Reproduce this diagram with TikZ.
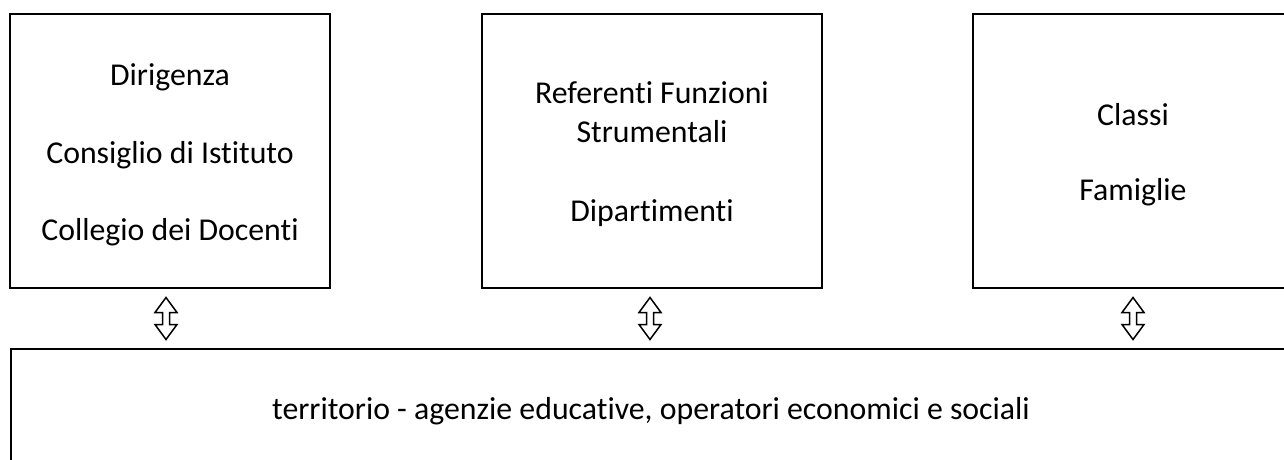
\documentclass[tikz,border=0pt]{standalone}
\usepackage{fontspec}
\setmainfont{Carlito}[Ligatures={NoCommon}]
\usetikzlibrary{calc}
\begin{document}
\begin{tikzpicture}[x=1pt,y=-1pt,
  box/.style={draw, line width=2pt, inner sep=0pt},
  lbl/.style={font=\fontsize{31.8}{38}\selectfont, anchor=base, inner sep=0pt},
  arr/.style={draw, line width=1.5pt, line join=miter, fill=white}]
\clip (0,0) rectangle (1284,459);
% boxes
\node[box, minimum width=320pt, minimum height=274pt] (lbox) at (170,151) {};
\node[box, minimum width=340pt, minimum height=274pt] (mbox) at (652,151) {};
\node[box, minimum width=320pt, minimum height=274pt] (rbox) at (1133,151) {};
\node[box, anchor=north west, minimum width=1300pt, minimum height=140pt] (bot) at (10,348) {};
% texts
\node[lbl] (t1) at (170,85) {Dirigenza};
\node[lbl] (t2) at (170,163) {Consiglio di Istituto};
\node[lbl] (t3) at (170,240) {Collegio dei Docenti};
\node[lbl] (m1) at (652,103) {Referenti Funzioni};
\node[lbl] (m2) at (652,142) {Strumentali};
\node[lbl] (m3) at (652,221) {Dipartimenti};
\node[lbl] (r1) at (1133,125) {Classi};
\node[lbl] (r2) at (1133,200) {Famiglie};
\node[lbl] (b1) at (651,419) {territorio - agenzie educative, operatori economici e sociali};
% double arrows
\coordinate (a1) at ($(lbox.south)!0.5!(lbox.south |- bot.north)$);
\coordinate (a2) at ($(mbox.south)!0.5!(mbox.south |- bot.north)$);
\coordinate (a3) at ($(rbox.south)!0.5!(rbox.south |- bot.north)$);
\foreach \c/\dx in {a1/-4,a2/-2,a3/0}{
  \draw[arr] ($(\c)+(\dx,0)$) ++(0,-21) -- ++(11,15) -- ++(-7.5,0) -- ++(0,12) -- ++(7.5,0)
    -- ++(-11,15) -- ++(-11,-15) -- ++(7.5,0) -- ++(0,-12) -- ++(-7.5,0) -- cycle;
}
\end{tikzpicture}
\end{document}
